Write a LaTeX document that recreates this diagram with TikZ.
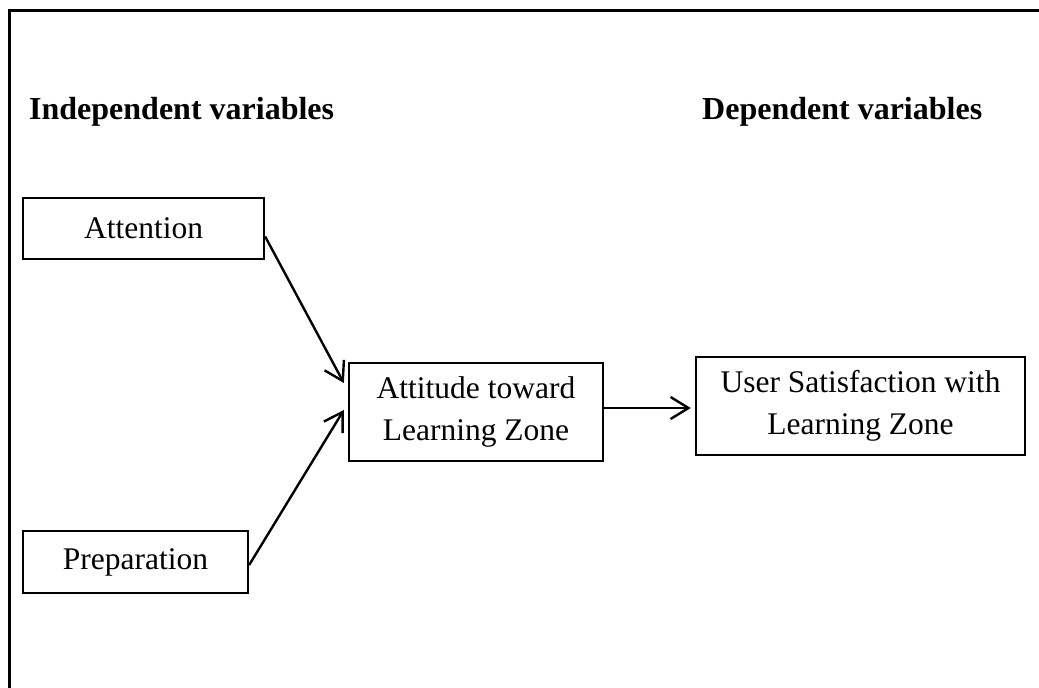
\documentclass[tikz,border=0pt]{standalone}
\usepackage{fontspec}
\setmainfont{Liberation Serif}
\usetikzlibrary{arrows.meta}
\tikzset{
  varbox/.style={draw,line width=2.3pt,inner sep=0pt,align=center,font=\fontsize{31.5}{42}\selectfont},
  heading/.style={anchor=base west,inner sep=0pt,font=\fontsize{32}{38}\selectfont\bfseries},
  link/.style={line width=2.4pt,-{Straight Barb[length=18pt,width=22pt,line width=2.4pt]}}
}
\begin{document}
\begin{tikzpicture}[x=1pt,y=-1pt]
\useasboundingbox (0,0) rectangle (1039,688);
\draw[line width=2.3pt] (1045,10.5) -- (9.5,10.5) -- (9.5,695);
\node[heading] (indep) at (29,119) {Independent variables};
\node[heading] (dep) at (702,119) {Dependent variables};
\node[varbox,minimum width=241pt,minimum height=61pt] (attn) at (143.5,228.5) {Attention};
\node[varbox,minimum width=225pt,minimum height=62pt] (prep) at (135.5,562) {Preparation};
\node[varbox,minimum width=254pt,minimum height=98pt] (attd) at (476,412) {Attitude toward\\Learning Zone};
\node[varbox,minimum width=329pt,minimum height=98pt] (sat) at (860.5,406) {User Satisfaction with\\Learning Zone};
\draw[link] ([yshift=-8pt]attn.east) -- ([xshift=-4pt,yshift=29pt]attd.west);
\draw[link] ([yshift=-3pt]prep.east) -- ([xshift=-4pt,yshift=2pt]attd.west);
\draw[link] ([yshift=4pt]attd.east) -- ([xshift=-4pt,yshift=-2pt]sat.west);
\end{tikzpicture}
\end{document}
